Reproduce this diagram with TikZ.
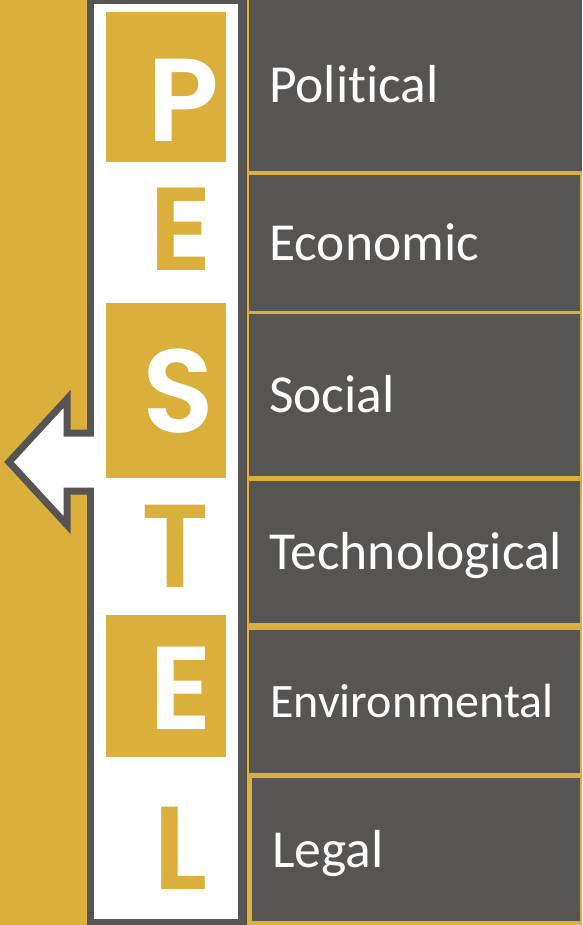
\documentclass[tikz,border=0pt]{standalone}
\usepackage{fontspec}
\newfontfamily\labfont{Carlito}[Ligatures=NoCommon]
\newfontfamily\letfont{Poppins SemiBold}
\definecolor{pgold}{HTML}{DBAF3B}
\definecolor{pdark}{HTML}{575553}
\begin{document}
\begin{tikzpicture}[x=1pt,y=-1pt,
  darkbox/.style={fill=pdark,draw=none},
  lab/.style={anchor=base west,inner sep=0pt,text=white,font=\labfont\fontsize{53.5}{60}\selectfont},
  letw/.style={anchor=base,inner sep=0pt,text=white,font=\letfont\fontsize{118}{130}\selectfont},
  letg/.style={anchor=base,inner sep=0pt,text=pgold,font=\letfont\fontsize{118}{130}\selectfont},
  goldsq/.style={fill=pgold,draw=none}]
\useasboundingbox (0,0) rectangle (582,925);
% background
\fill[pgold] (0,0) rectangle (582,925);
% right boxes
\fill[darkbox] (249,0) rectangle (582,171);
\fill[darkbox] (249,175) rectangle (580,311);
\fill[darkbox] (249,314) rectangle (580,476);
\fill[darkbox] (249,481) rectangle (580,623);
\fill[darkbox] (249,630) rectangle (580,773);
\fill[darkbox] (252,778) rectangle (580,921);
% panel border
\fill[pdark] (87,0) rectangle (247,925);
% arrow
\draw[pdark,fill=white,line width=7pt,miter limit=10]
  (100,433) -- (67,433) -- (67,399) -- (9,462) -- (67,525) -- (67,491) -- (100,491) -- cycle;
% panel interior
\fill[white] (94,4) rectangle (238,919);
% gold squares
\fill[goldsq] (106,12) rectangle (226,162);
\fill[goldsq] (106,303) rectangle (226,478);
\fill[goldsq] (106,615) rectangle (226,757);
% letters
\node[letw] (lp) at (183,142) {P};
\node[letg] (le) at (181,270) {E};
\node[letw] (ls) at (178,432) {S};
\node[letg] (lt) at (176,587) {T};
\node[letw] (le2) at (181,729) {E};
\node[letg] (ll) at (181,889) {L};
% labels
\node[lab] (political) at (269,103) {Political};
\node[lab] (economic) at (269,260) {Economic};
\node[lab] (social) at (269,412) {Social};
\node[lab] (techn) at (269,569) {Technological};
\node[lab,font=\labfont\fontsize{48}{56}\selectfont] (environ) at (270,717) {Environmental};
\node[lab] (legal) at (272,867) {Legal};
\end{tikzpicture}
\end{document}
